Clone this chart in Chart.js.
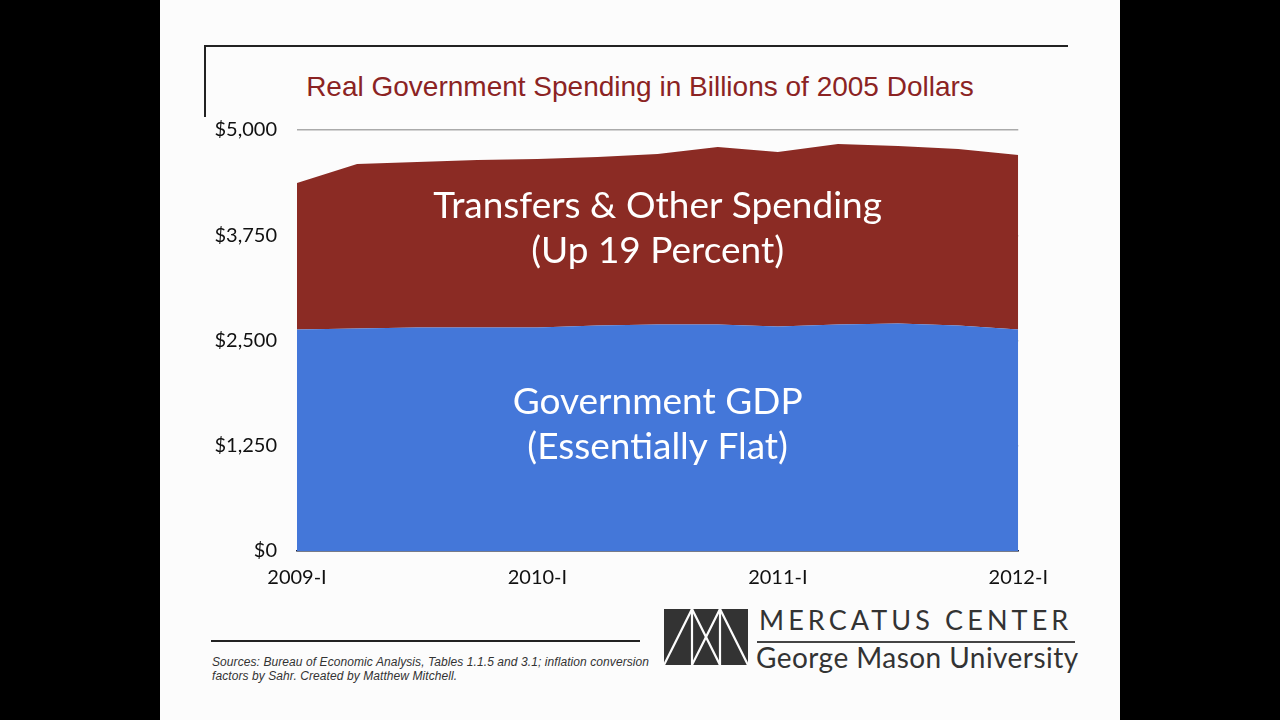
<!DOCTYPE html>
<html>
<head>
<meta charset="utf-8">
<script src="https://cdn.jsdelivr.net/npm/chart.js@4"></script>
<style>
  html, body { margin: 0; padding: 0; background: #000; }
  #slide { position: absolute; left: 160px; top: 0; width: 960px; height: 720px; background: #fcfcfc; overflow: hidden; }
  .abs { position: absolute; }
  #frameTop { left: 44px; top: 45px; width: 864px; height: 2px; background: #222; }
  #frameLeft { left: 44px; top: 45px; width: 2px; height: 72px; background: #222; }
  #title { left: 0; width: 960px; top: 71px; text-align: center; font: 28px "Liberation Sans", Arial, sans-serif; color: #8b2323; }
  #chartBox { left: 40px; top: 98px; width: 863px; height: 502px; }
  #srcLine { left: 51px; top: 640px; width: 429px; height: 2px; background: #222; }
  #sources { left: 52px; top: 655px; font: italic 12px "Liberation Sans", Arial, sans-serif; color: #333; line-height: 14px; letter-spacing: 0.08px; }
  #logoMark { left: 504px; top: 609px; }
  #logoTop { left: 599px; top: 603px; font: 27px Lato, sans-serif; color: #333; letter-spacing: 4.1px; }
  #logoRule { left: 597px; top: 641px; width: 318px; height: 2px; background: #444; }
  #logoBottom { left: 596px; top: 640px; font: 28px Lato, sans-serif; color: #333; letter-spacing: 0.45px; }
</style>
</head>
<body>
<div id="slide">
  <div class="abs" id="frameTop"></div>
  <div class="abs" id="frameLeft"></div>
  <div class="abs" id="title">Real Government Spending in Billions of 2005 Dollars</div>
  <div class="abs" id="chartBox"><canvas id="chart"></canvas></div>
  <div class="abs" id="srcLine"></div>
  <div class="abs" id="sources">Sources: Bureau of Economic Analysis, Tables 1.1.5 and 3.1; inflation conversion<br>factors by Sahr. Created by Matthew Mitchell.</div>
  <svg class="abs" id="logoMark" width="84" height="56" viewBox="0 0 84 56">
    <rect x="0" y="0" width="84" height="56" fill="#333"/>
    <g stroke="#fcfcfc" stroke-width="2.2" fill="none">
      <line x1="0" y1="56" x2="28" y2="0"/>
      <line x1="28" y1="0" x2="56" y2="56"/>
      <line x1="28" y1="56" x2="56" y2="0"/>
      <line x1="56" y1="0" x2="84" y2="56"/>
      <line x1="28" y1="0" x2="28" y2="56"/>
      <line x1="56" y1="0" x2="56" y2="56"/>
    </g>
  </svg>
  <div class="abs" id="logoTop">MERCATUS CENTER</div>
  <div class="abs" id="logoRule"></div>
  <div class="abs" id="logoBottom">George Mason University</div>
</div>
<script>
// quarters 2009-I .. 2012-I
const quarters = ['2009-I','2009-II','2009-III','2009-IV',
                  '2010-I','2010-II','2010-III','2010-IV',
                  '2011-I','2011-II','2011-III','2011-IV',
                  '2012-I'];

// billions of 2005 dollars
const governmentGDP = [2630, 2642, 2654, 2654, 2654, 2678, 2690, 2690, 2666, 2690, 2701, 2678, 2630];
const transfersOther = [1742, 1955, 1967, 1991, 2002, 2002, 2026, 2109, 2073, 2144, 2109, 2097, 2074];

const yTicks = [0, 1250, 2500, 3750, 5000];

// text written on top of the areas: [line, value on the y axis where it sits]
const areaLabels = [
  ['Transfers & Other Spending', 4100],
  ['(Up 19 Percent)', 3560],
  ['Government GDP', 1770],
  ['(Essentially Flat)', 1230]
];

const areaText = {
  id: 'areaText',
  afterDatasetsDraw(chart) {
    const ctx = chart.ctx;
    const a = chart.chartArea;
    const y = chart.scales.y;
    ctx.save();
    ctx.fillStyle = '#fff';
    ctx.font = '37px Lato, sans-serif';
    ctx.textAlign = 'center';
    ctx.textBaseline = 'middle';
    areaLabels.forEach(function(l) {
      ctx.fillText(l[0], (a.left + a.right) / 2, y.getPixelForValue(l[1]));
    });
    ctx.restore();
  }
};

const tickFont = { family: 'Lato, sans-serif', size: 20 };

new Chart(document.getElementById('chart'), {
  type: 'line',
  data: {
    labels: quarters,
    datasets: [
      { label: 'Government GDP', data: governmentGDP, backgroundColor: '#4477d9',
        borderWidth: 0, pointRadius: 0, fill: 'origin', tension: 0 },
      { label: 'Transfers & Other Spending', data: transfersOther, backgroundColor: '#8b2b24',
        borderWidth: 0, pointRadius: 0, fill: '-1', tension: 0 }
    ]
  },
  options: {
    responsive: true,
    maintainAspectRatio: false,
    animation: false,
    layout: { padding: { top: 27, right: 39, left: 0, bottom: 0 } },
    plugins: { legend: { display: false }, tooltip: { enabled: false } },
    scales: {
      x: {
        offset: false,
        grid: { display: false, drawTicks: false },
        border: { display: true, color: '#1c2540', width: 1.5 },
        ticks: {
          autoSkip: false, maxRotation: 0, padding: 15, color: '#111', font: tickFont,
          callback: function(v, i) { return i % 4 === 0 ? quarters[i] : ''; }
        },
        afterFit: function(s) { s.height = 49; }
      },
      y: {
        stacked: true,
        min: 0, max: 5000,
        afterBuildTicks: function(s) { s.ticks = yTicks.map(function(v) { return { value: v }; }); },
        grid: { color: '#aaa', lineWidth: 1.5, drawTicks: false },
        border: { display: false },
        ticks: {
          padding: 20, color: '#111', font: tickFont,
          callback: function(v) { return '$' + v.toLocaleString('en-US'); }
        },
        afterFit: function(s) { s.width = 97; }
      }
    }
  },
  plugins: [areaText]
});
</script>
</body>
</html>
